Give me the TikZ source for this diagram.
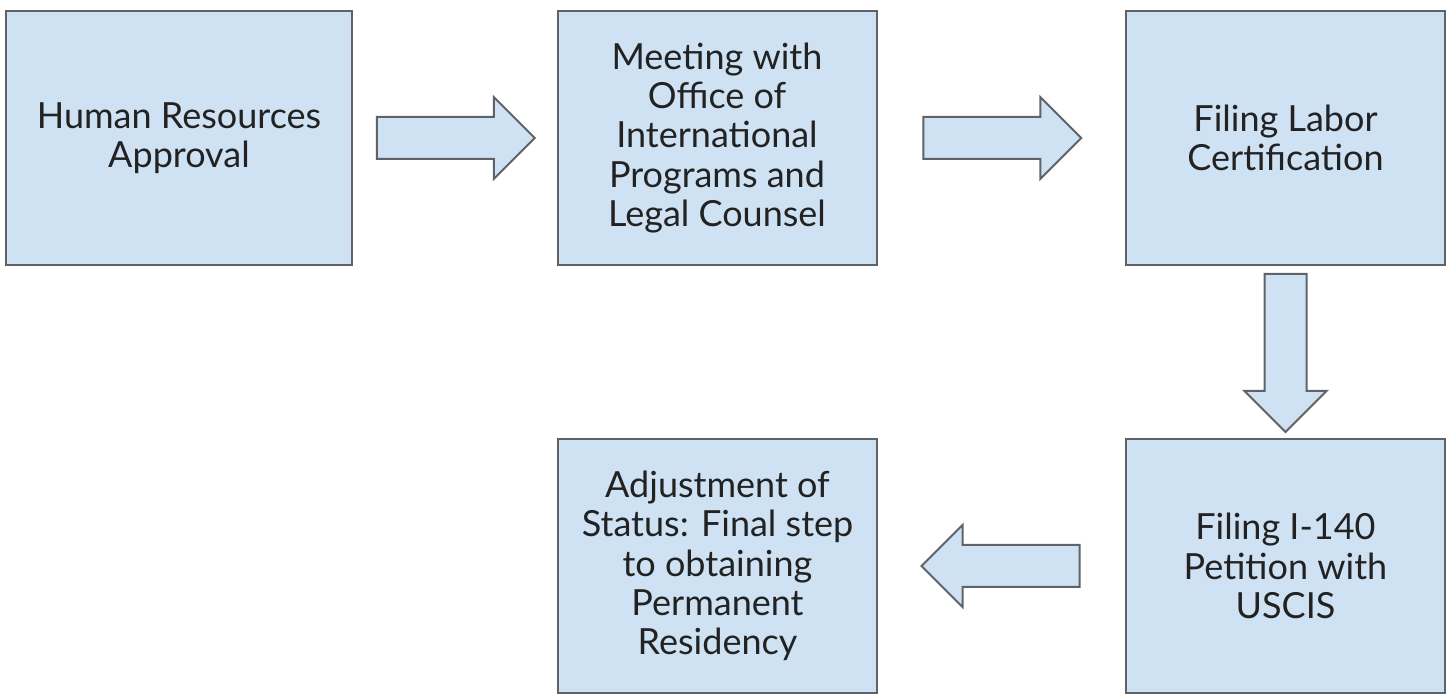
\documentclass[tikz,border=0pt]{standalone}
\usepackage{fontspec}
\setmainfont{Lato}
\usetikzlibrary{shapes.arrows,calc}
\definecolor{boxfill}{HTML}{CFE2F3}
\definecolor{boxline}{HTML}{5F6266}
\definecolor{boxtext}{HTML}{222222}
\begin{document}
\begin{tikzpicture}[x=0.5pt, y=-0.5pt,
    stepbox/.style={draw=boxline, fill=boxfill, line width=1pt, rectangle,
        minimum width=159.5pt, minimum height=127pt, inner sep=0pt,
        align=center, text=boxtext, font=\fontsize{18}{19.7}\selectfont},
    flowarrow/.style={draw=boxline, fill=boxfill, line width=1pt, single arrow,
        minimum height=79pt, minimum width=40pt, single arrow head extend=10pt,
        inner sep=10pt, anchor=tail}]
        \useasboundingbox (0,0) rectangle (1448,694);
        \node[stepbox, minimum width=173pt] (hr) at (179,138) {Human Resources\\Approval};
        \node[stepbox] (meet) at (717,138) {Meeting with\\Office of\\International\\Programs and\\Legal Counsel};
        \node[stepbox] (labor) at (1285.5,138) {Filing Labor\\Certification};
        \node[stepbox] (petition) at (1285.5,566) {Filing I-140\\Petition with\\USCIS};
        \node[stepbox] (adjust) at (717.5,566) {Adjustment of\\Status: Final step\\to obtaining\\Permanent\\Residency};
        \node[flowarrow] (a1) at ($(hr.east)!0.5!(meet.west)!39.5pt!(hr.east)$) {};
        \node[flowarrow] (a2) at ($(meet.east)!0.5!(labor.west)!39.5pt!(meet.east)$) {};
        \node[flowarrow, shape border rotate=270] (a3) at ($(labor.south)!0.5!(petition.north)!39.5pt!(labor.south)$) {};
        \node[flowarrow, shape border rotate=180] (a4) at ($(petition.west)!0.5!(adjust.east)!39.5pt!(petition.west)$) {};
    \end{tikzpicture}
\end{document}
